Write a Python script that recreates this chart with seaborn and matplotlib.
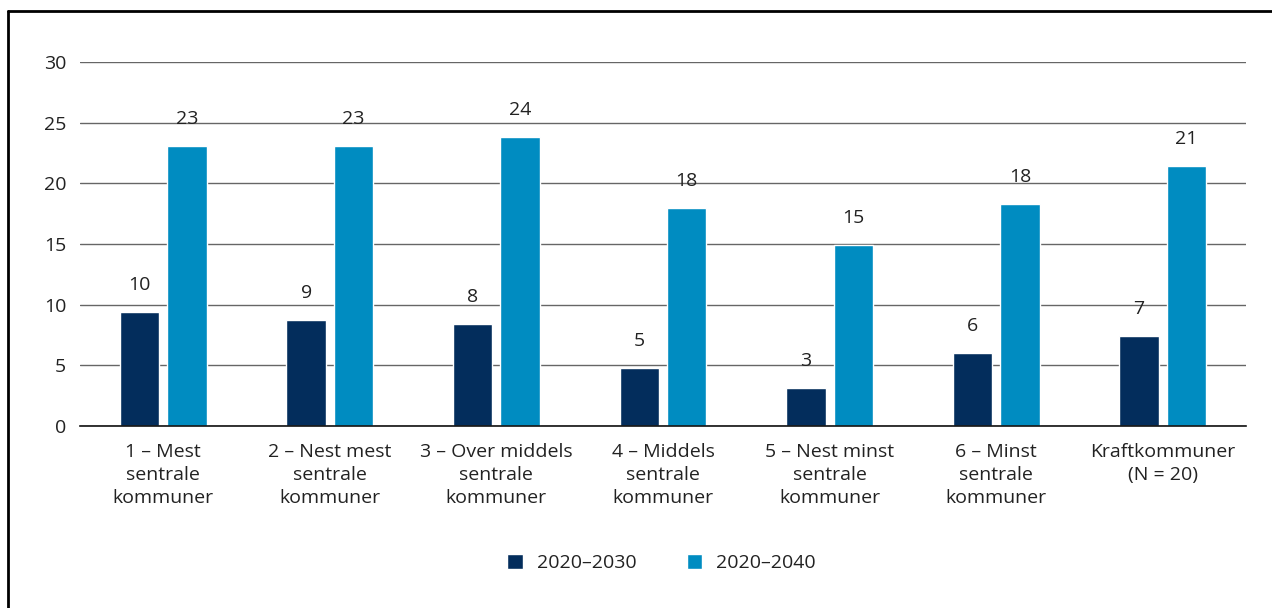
import matplotlib.pyplot as plt
import pandas as pd
import seaborn as sns
from matplotlib.lines import Line2D

categories = ['1 – Mest\nsentrale\nkommuner', '2 – Nest mest\nsentrale\nkommuner',
              '3 – Over middels\nsentrale\nkommuner', '4 – Middels\nsentrale\nkommuner',
              '5 – Nest minst\nsentrale\nkommuner', '6 – Minst\nsentrale\nkommuner',
              'Kraftkommuner\n(N = 20)']
periods = ['2020–2030', '2020–2040']
values_2030 = [9.4, 8.7, 8.4, 4.8, 3.1, 6.0, 7.4]
values_2040 = [23.1, 23.1, 23.8, 18.0, 14.9, 18.3, 21.4]
labels_2030 = ['10', '9', '8', '5', '3', '6', '7']
labels_2040 = ['23', '23', '24', '18', '15', '18', '21']
colors = ['#032d5c', '#008cc1']

df = pd.DataFrame({
    'Kategori': categories * 2,
    'Periode': [periods[0]] * len(categories) + [periods[1]] * len(categories),
    'Verdi': values_2030 + values_2040,
})

sns.set_style('white')
plt.rcParams['font.family'] = ['Open Sans', 'DejaVu Sans']
plt.rcParams['font.size'] = 14
plt.rcParams['text.color'] = '#222222'

fig = plt.figure(figsize=(12.72, 6.08), dpi=100)
ax = fig.add_axes([80 / 1272, 1 - 426 / 608, 1166 / 1272, 364 / 608])

sns.barplot(data=df, x='Kategori', y='Verdi', hue='Periode', palette=colors,
            width=0.57, gap=0.17, saturation=1, ax=ax, legend=True)

for container, labels in zip(ax.containers, [labels_2030, labels_2040]):
    ax.bar_label(container, labels=labels, padding=13, fontsize=14, color='#222222')

ax.set_ylim(0, 30)
ax.set_yticks(range(0, 31, 5))
ax.set_xlim(-0.5, len(categories) - 0.5)
ax.yaxis.grid(True, color='#666666', linewidth=1)
ax.set_axisbelow(True)
for side in ['top', 'right', 'left']:
    ax.spines[side].set_visible(False)
ax.spines['bottom'].set_color('#111111')
ax.spines['bottom'].set_linewidth(1.2)
ax.tick_params(axis='y', length=0, pad=10, labelsize=14, labelcolor='#222222')
ax.tick_params(axis='x', length=0, pad=12, labelsize=14, labelcolor='#222222')
for lbl in ax.get_xticklabels():
    lbl.set_linespacing(1.38)
ax.set_xlabel('')
ax.set_ylabel('')

ax.legend(loc='center', bbox_to_anchor=(0.52, 1 - 563 / 608), bbox_transform=fig.transFigure,
          ncol=2, frameon=False, fontsize=14, handlelength=0.78, handleheight=0.78,
          handletextpad=0.72, columnspacing=2.6, title=None)

# frame lines at top and left of the figure
fig.add_artist(Line2D([8 / 1272, 1], [1 - 11 / 608] * 2, transform=fig.transFigure,
                      color='black', linewidth=2))
fig.add_artist(Line2D([8 / 1272] * 2, [0, 1 - 11 / 608], transform=fig.transFigure,
                      color='black', linewidth=2))

plt.savefig('out.png', dpi=100)
